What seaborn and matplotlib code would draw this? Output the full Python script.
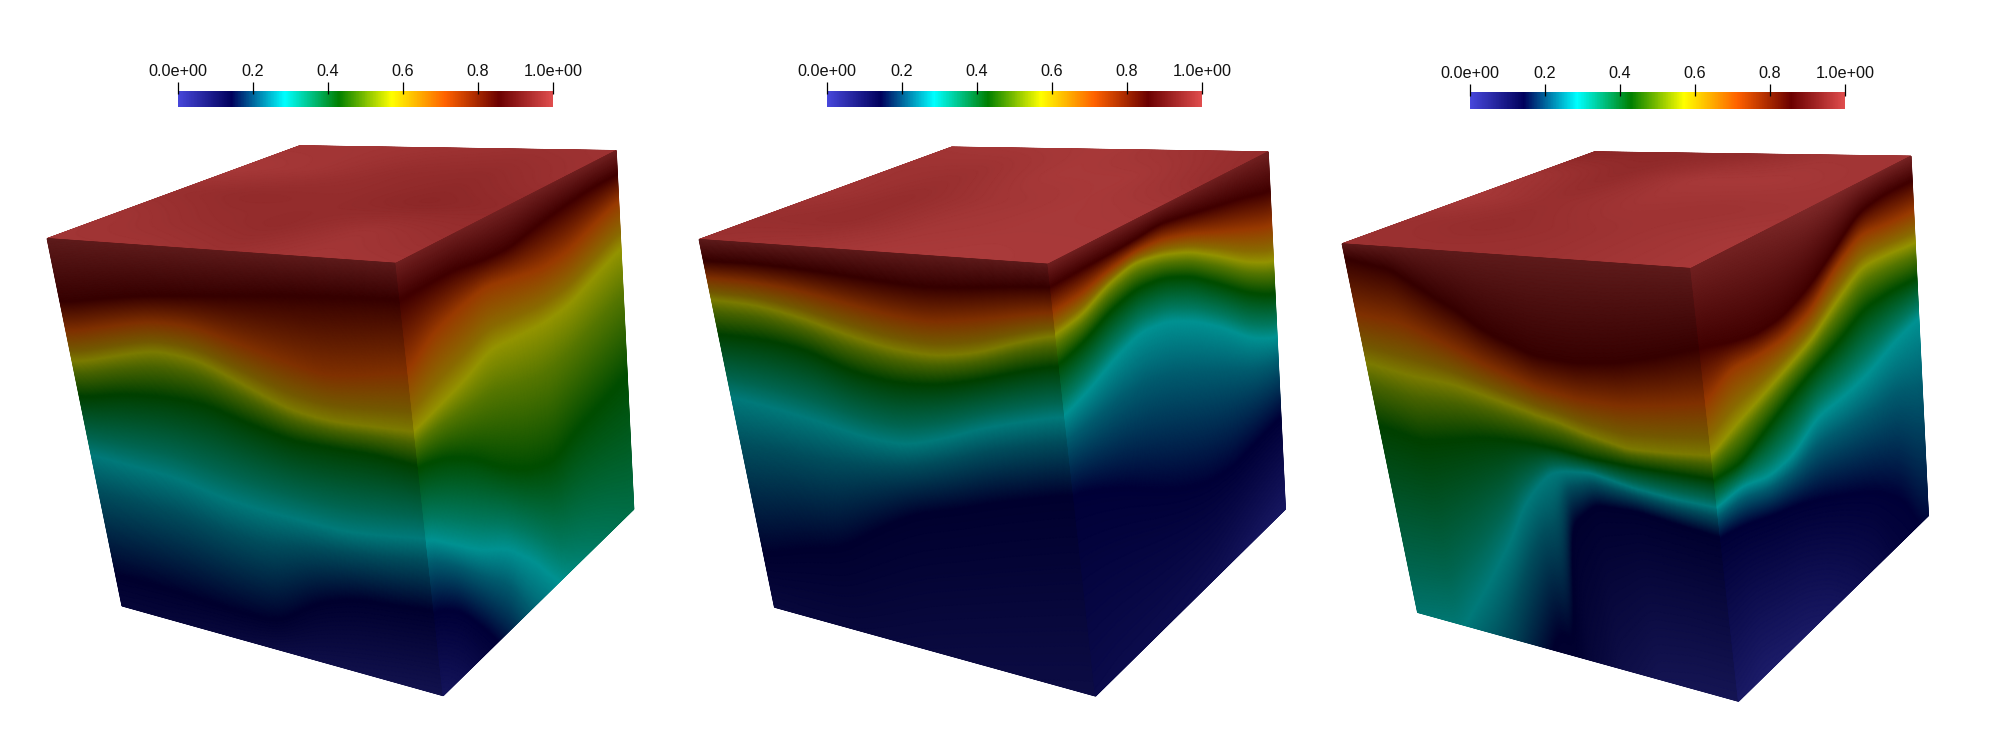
import numpy as np
import matplotlib
matplotlib.use("Agg")
import matplotlib.pyplot as plt
from matplotlib.colors import LinearSegmentedColormap
import seaborn as sns

sns.set_theme(style="white")
plt.rcParams['font.family'] = ['Liberation Sans', 'DejaVu Sans']

# ---- data -----------------------------------------------------------------
TICK_VALUES = [0.0, 0.2, 0.4, 0.6, 0.8, 1.0]
TICK_LABELS = ["0.0e+00", "0.2", "0.4", "0.6", "0.8", "1.0e+00"]

# ParaView "Rainbow Desaturated" control points
CMAP_POS = [0.0, 0.143, 0.285, 0.429, 0.571, 0.714, 0.857, 1.0]
CMAP_RGB = [(0.278, 0.278, 0.859), (0, 0, 0.36), (0, 1, 1), (0, 0.5, 0),
            (1, 1, 0), (1, 0.38, 0), (0.42, 0, 0), (0.878, 0.302, 0.302)]
# the lit surfaces show narrower bright bands than the bar: extra stops
FACE_POS = [0.0, 0.143, 0.24, 0.285, 0.33, 0.429, 0.52, 0.571, 0.62, 0.714, 0.857, 1.0]
FACE_RGB = [(0.278, 0.278, 0.859), (0, 0, 0.36), (0, 0.60, 0.72), (0, 0.96, 0.96), (0, 0.79, 0.62),
            (0, 0.5, 0), (0.56, 0.77, 0), (0.97, 0.97, 0), (0.90, 0.70, 0), (1, 0.38, 0),
            (0.42, 0, 0), (0.878, 0.302, 0.302)]

# field levels whose depth (fraction down the face) is tabulated per column
LEVELS = [1.0, 0.857, 0.714, 0.571, 0.43, 0.285, 0.143, 0.0]
U9 = [0, .125, .25, .375, .5, .625, .75, .875, 1]

c1_front = [
    [-.078, -.068, -.060, -.055, -.050, -.046, -.043, -.040, -.038],
    [.174, .151, .133, .123, .113, .102, .095, .089, .085],
    [.255, .225, .200, .200, .230, .260, .285, .270, .250],
    [.339, .306, .276, .287, .335, .382, .397, .394, .391],
    [.433, .406, .395, .399, .433, .459, .460, .460, .471],
    [.590, .600, .608, .637, .650, .655, .661, .651, .637],
    [.920, .918, .924, .930, .930, .857, .823, .815, .805],
    [1.42, 1.43, 1.30, 1.23, 1.14, 1.21, 1.225, 1.20, 1.19],
]
c1_right = [
    [-.038, -.04, -.04, -.04, -.04, -.04, -.035, -.03, -.03],
    [.085, .084, .084, .099, .104, .087, .075, .067, .067],
    [.250, .200, .178, .163, .181, .199, .196, .167, .139],
    [.391, .371, .351, .318, .329, .339, .334, .303, .272],
    [.471, .494, .539, .608, .663, .693, .662, .645, .623],
    [.637, .700, .764, .811, .899, 1.02, 1.107, 1.217, 1.377],
    [.805, .858, .963, 1.10, 1.40, 1.50, 1.70, 1.90, 2.20],
    [1.19, 1.33, 1.60, 1.80, 2.20, 2.40, 2.70, 3.00, 3.30],
]
c1_top = [
    [.985, .985, .980, .975, .980],
    [.995, .985, .965, .960, .975],
    [.970, .960, .965, .950, .960],
    [.985, .970, .960, .985, .970],
    [.985, .985, .975, .990, .985],
]

c2_front = [
    [-.027, -.025, -.026, -.03, -.033, -.036, -.033, -.028, -.024],
    [.059, .055, .058, .065, .073, .079, .072, .061, .053],
    [.105, .105, .115, .135, .155, .165, .150, .130, .110],
    [.165, .167, .188, .220, .243, .249, .231, .194, .164],
    [.259, .257, .272, .314, .328, .320, .294, .261, .234],
    [.430, .442, .459, .480, .485, .451, .409, .379, .352],
    [.860, .817, .792, .718, .658, .627, .591, .563, .535],
    [1.47, 1.70, 1.80, 1.90, 1.925, 1.90, 1.90, 1.88, 1.86],
]
c2_right = [
    [-.024, -.023, -.023, -.022, -.018, -.025, -.033, -.04, -.05],
    [.053, .051, .050, .048, .041, .056, .072, .088, .112],
    [.110, .105, .087, .075, .080, .105, .140, .175, .210],
    [.164, .154, .119, .102, .120, .152, .204, .265, .312],
    [.234, .216, .182, .166, .178, .216, .279, .348, .403],
    [.352, .329, .297, .274, .288, .332, .394, .472, .524],
    [.535, .570, .612, .666, .716, .754, .769, .756, .743],
    [2.40, 2.20, 2.05, 1.85, 1.66, 1.50, 1.32, 1.25, 1.21],
]
c2_top = [
    [.985, .990, .995, .980, .965],
    [.980, .975, .995, .995, .970],
    [.985, .965, .985, .995, .990],
    [.970, .965, .990, .995, .995],
    [.975, .985, .995, 1.00, .995],
]

U3_FRONT = [0, .125, .25, .3, .35, .4, .45, .5, .54, .625, .75, .875, 1]
c3_front = [
    [-.02, -.03, -.06, -.07, -.085, -.095, -.105, -.113, -.115, -.117, -.11, -.10, -.085],
    [.041, .061, .131, .154, .188, .211, .228, .246, .250, .254, .241, .215, .183],
    [.190, .200, .245, .265, .285, .300, .315, .330, .335, .345, .345, .330, .310],
    [.324, .343, .351, .361, .371, .382, .392, .403, .408, .429, .450, .444, .434],
    [.494, .516, .492, .482, .477, .475, .474, .476, .478, .487, .491, .490, .489],
    [1.056, 1.03, .870, .800, .732, .646, .588, .543, .532, .524, .543, .552, .554],
    [1.60, 1.50, 1.40, 1.30, 1.15, 1.05, .950, .970, .670, .604, .600, .613, .624],
    [2.00, 2.00, 2.00, 2.00, 2.20, 2.40, 2.50, 2.50, 2.50, 1.67, 1.33, 1.28, 1.27],
]
c3_right = [
    [-.085, -.085, -.08, -.06, -.03, -.02, -.02, -.02, -.02],
    [.183, .210, .228, .225, .194, .140, .077, .065, .069],
    [.310, .271, .280, .278, .254, .185, .134, .147, .153],
    [.434, .404, .380, .353, .324, .270, .220, .229, .244],
    [.489, .496, .463, .428, .397, .370, .330, .329, .340],
    [.554, .548, .573, .565, .517, .515, .502, .470, .449],
    [.624, .640, .667, .690, .725, .767, .817, .893, 1.075],
    [1.27, 1.19, 1.20, 1.21, 1.275, 1.43, 1.73, 3.00, 3.00],
]
c3_top = [
    [.950, .955, .960, .985, .985],
    [.985, .960, .995, .995, .985],
    [.995, .970, .985, .980, .985],
    [.975, .965, .975, .985, .995],
    [.975, .975, .975, .985, .995],
]

# ---- layout (pixels of the 2000 x 748 canvas) ------------------------------
CUBES = [
    dict(A=(47.1, 238.6), B=(396.0, 263.3), C=(299.7, 145.8), D=(616.2, 150.6),
         E=(122.0, 605.9), F=(443.2, 695.7), G=(633.8, 509.2),
         front=c1_front, right=c1_right, top=c1_top, front_u=U9, front_smooth=28,
         bar=(177.5, 553.0, 90.7, 107.0)),
    dict(A=(699.1, 239.5), B=(1048.0, 264.2), C=(951.7, 147.1), D=(1268.2, 151.9),
         E=(774.5, 607.2), F=(1095.6, 696.1), G=(1285.4, 509.2),
         front=c2_front, right=c2_right, top=c2_top, front_u=U9, front_smooth=28,
         bar=(827.0, 1202.0, 90.7, 107.0)),
    dict(A=(1342.1, 243.8), B=(1690.8, 268.5), C=(1594.5, 151.9), D=(1911.0, 156.2),
         E=(1417.6, 612.4), F=(1738.5, 701.3), G=(1928.4, 515.7),
         front=c3_front, right=c3_right, top=c3_top, front_u=U3_FRONT, front_smooth=11,
         bar=(1470.0, 1845.0, 92.2, 108.5)),
]
W, H = 2000, 748
SHADE = dict(top=0.76, front=0.50, right=0.60)
RIGHT_SMOOTH = 24
N = 420

cmap = LinearSegmentedColormap.from_list("rainbow_desat", list(zip(CMAP_POS, CMAP_RGB)), N=1024)


def shaded(factor):
    pts = [(p, tuple(factor * c for c in rgb)) for p, rgb in zip(FACE_POS, FACE_RGB)]
    return LinearSegmentedColormap.from_list(f"shade{factor}", pts, N=1024)


def smooth(y, width):
    k = np.ones(width) / width
    for _ in range(3):
        y = np.convolve(np.pad(y, width, mode="edge"), k, mode="same")[width:-width]
    return y


def contour_field(table, u_cols, width):
    table = np.asarray(table, float)
    uf = np.linspace(0, 1, N)
    vf = np.linspace(0, 1, N)
    depth = np.array([smooth(np.interp(uf, u_cols, row), width) for row in table])
    depth = np.maximum.accumulate(depth, axis=0)
    lv = np.array(LEVELS)
    return np.array([np.interp(vf, depth[:, j] + 1e-6 * np.arange(len(lv)), lv)
                     for j in range(N)]).T


def grid_field(table):
    table = np.asarray(table, float)
    r, c = table.shape
    uf, vf = np.linspace(0, 1, N), np.linspace(0, 1, N)
    a = np.array([np.interp(uf, np.linspace(0, 1, c), row) for row in table])
    b = np.array([np.interp(vf, np.linspace(0, 1, r), a[:, j]) for j in range(N)]).T
    b = np.array([smooth(row, 25) for row in b])
    b = np.array([smooth(col, 25) for col in b.T]).T
    return b


def draw_face(ax, tl, tr, bl, br, values, factor):
    s, t = np.meshgrid(np.linspace(0, 1, N), np.linspace(0, 1, N))
    tl, tr, bl, br = map(np.asarray, (tl, tr, bl, br))
    x = (1-s)*(1-t)*tl[0] + s*(1-t)*tr[0] + (1-s)*t*bl[0] + s*t*br[0]
    y = (1-s)*(1-t)*tl[1] + s*(1-t)*tr[1] + (1-s)*t*bl[1] + s*t*br[1]
    ax.pcolormesh(x, y, values, cmap=shaded(factor), vmin=0, vmax=1,
                  shading="gouraud", rasterized=True)


fig = plt.figure(figsize=(W / 100, H / 100), dpi=100, facecolor="white")
ax = fig.add_axes([0, 0, 1, 1])
ax.set_xlim(0, W)
ax.set_ylim(H, 0)
ax.axis("off")

gradient = np.linspace(0, 1, 512)[None, :]

for cube in CUBES:
    draw_face(ax, cube["C"], cube["D"], cube["A"], cube["B"], grid_field(cube["top"]), SHADE["top"])
    draw_face(ax, cube["A"], cube["B"], cube["E"], cube["F"],
              contour_field(cube["front"], cube["front_u"], cube["front_smooth"]), SHADE["front"])
    draw_face(ax, cube["B"], cube["D"], cube["F"], cube["G"],
              contour_field(cube["right"], U9, RIGHT_SMOOTH), SHADE["right"])

    x0, x1, y0, y1 = cube["bar"]
    cax = fig.add_axes([x0 / W, 1 - y1 / H, (x1 - x0) / W, (y1 - y0) / H])
    sns.heatmap(gradient, ax=cax, cmap=cmap, vmin=0, vmax=1, cbar=False,
                xticklabels=False, yticklabels=False)
    tick_x_px = x0 + np.array(TICK_VALUES) * (x1 - x0)
    ax.vlines(tick_x_px, y0 - 8.7, y0 + 3.4, color="black", lw=0.9, zorder=5)
    for px, lab in zip(tick_x_px, TICK_LABELS):
        ax.text(px, y0 - 14.5, lab, ha="center", va="baseline",
                fontsize=11.7, color="#111111")
    cax.set_zorder(1)
    ax.set_zorder(2)
    ax.patch.set_alpha(0)

fig.savefig("out.png", dpi=100, facecolor="white")
